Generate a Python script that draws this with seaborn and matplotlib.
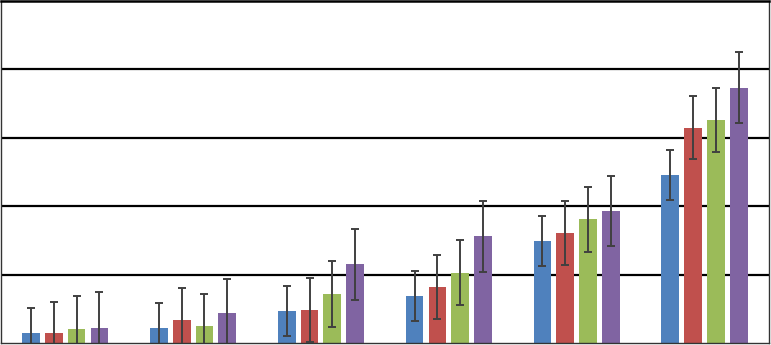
import matplotlib
matplotlib.use("Agg")
import matplotlib.pyplot as plt
import seaborn as sns
import pandas as pd
import numpy as np

categories = ["G1", "G2", "G3", "G4", "G5", "G6"]
series = ["S1", "S2", "S3", "S4"]
s1_values = [0.15, 0.225, 0.47, 0.69, 1.49, 2.46]
s2_values = [0.15, 0.34, 0.48, 0.82, 1.61, 3.15]
s3_values = [0.205, 0.25, 0.72, 1.03, 1.81, 3.26]
s4_values = [0.225, 0.44, 1.15, 1.56, 1.93, 3.73]
s1_errors = [0.36, 0.365, 0.365, 0.365, 0.365, 0.365]
s2_errors = [0.45, 0.47, 0.47, 0.47, 0.47, 0.465]
s3_errors = [0.48, 0.47, 0.48, 0.47, 0.475, 0.47]
s4_errors = [0.52, 0.50, 0.515, 0.52, 0.515, 0.52]
colors = ["#4F81BD", "#C0504D", "#9BBB59", "#8064A2"]

values = [s1_values, s2_values, s3_values, s4_values]
errors = [s1_errors, s2_errors, s3_errors, s4_errors]

df = pd.DataFrame({
    "cat": [c for _ in series for c in categories],
    "series": [s for s in series for _ in categories],
    "value": [v for vals in values for v in vals],
})

sns.set_style("white")
fig = plt.figure(figsize=(7.71, 3.45), dpi=100)
ax = fig.add_axes([0.0015, 2 / 345, 1 - 0.0045, 342 / 345])

sns.barplot(data=df, x="cat", y="value", hue="series", order=categories,
            hue_order=series, palette=colors, errorbar=None, width=0.716,
            gap=0.22, saturation=1, legend=False, linewidth=0, ax=ax)

for cont, errs in zip(ax.containers, errors):
    xs = [p.get_x() + p.get_width() / 2 for p in cont.patches]
    ys = [p.get_height() for p in cont.patches]
    ax.errorbar(xs, ys, yerr=errs, fmt="none", ecolor="#404040",
                elinewidth=1.4, capsize=3.2, capthick=1.4, zorder=5)

ax.set_ylim(0, 5)
ax.set_xlim(-0.5, 5.5)
ax.set_yticks([1, 2, 3, 4])
ax.yaxis.grid(True, color="black", linewidth=1.6)
ax.set_axisbelow(True)
ax.set_xticks([])
ax.set_yticklabels([])
ax.tick_params(left=False, bottom=False)
ax.set_xlabel("")
ax.set_ylabel("")
for side in ["left", "right", "bottom"]:
    ax.spines[side].set_visible(True)
    ax.spines[side].set_color("#333333")
    ax.spines[side].set_linewidth(1.0)
ax.spines["top"].set_color("black")
ax.spines["top"].set_linewidth(1.8)

fig.savefig("out.png", dpi=100)
